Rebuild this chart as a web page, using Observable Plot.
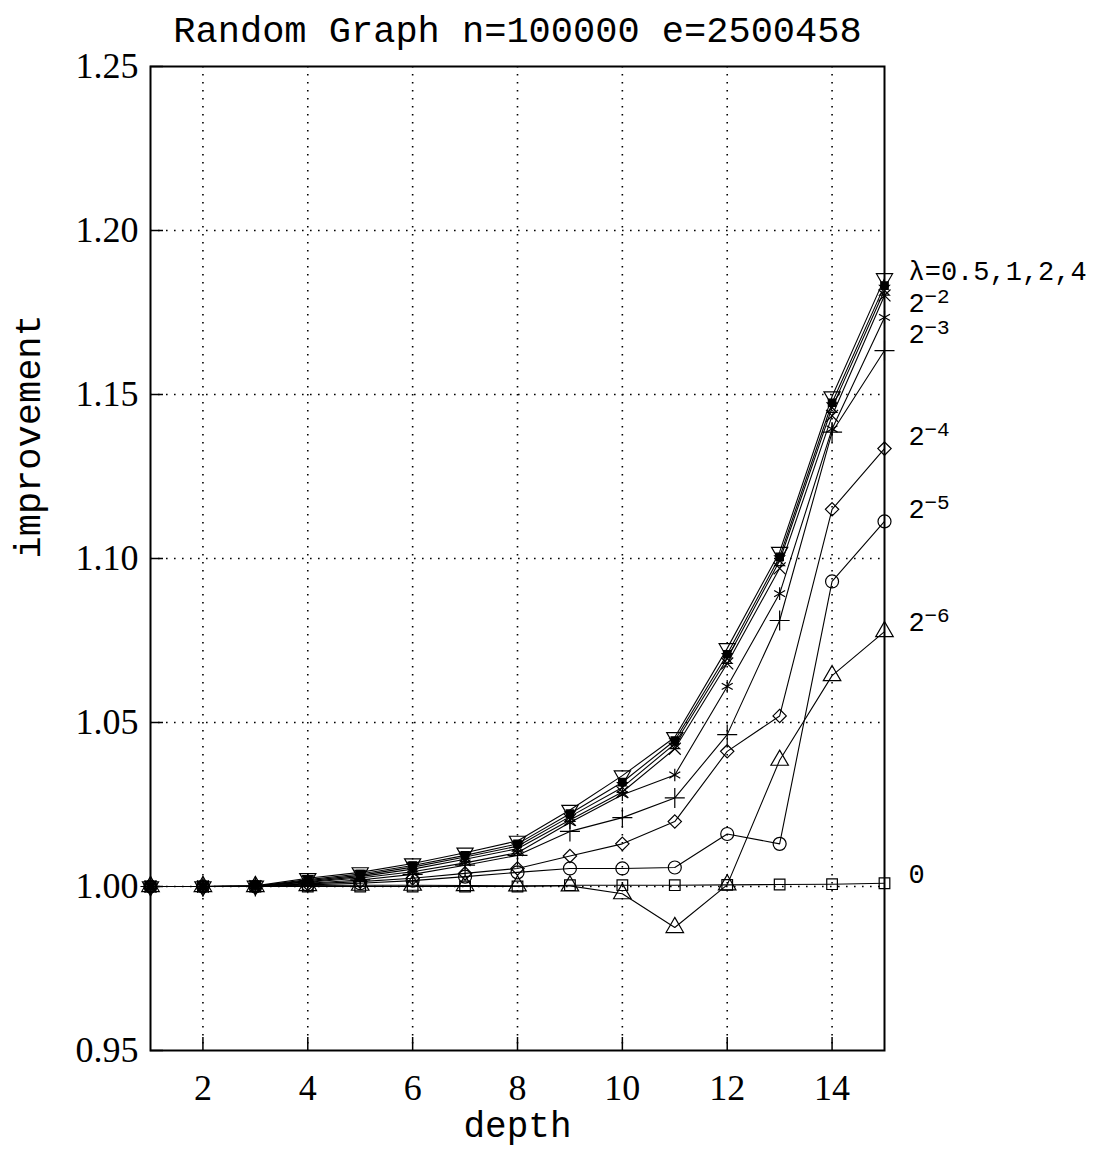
<!DOCTYPE html>
<html><head><meta charset="utf-8">
<script src="https://cdn.jsdelivr.net/npm/d3@7"></script>
<script src="https://cdn.jsdelivr.net/npm/@observablehq/plot@0.6"></script>
<style>body{margin:0;background:#fff}</style>
</head><body><div id="chart"></div>
<script>
// ---- data ----
const depth = [1, 2, 3, 4, 5, 6, 7, 8, 9, 10, 11, 12, 13, 14, 15];
const lam4   = [1.000, 1.000, 1.0002, 1.0025, 1.0043, 1.0070, 1.0103, 1.0139, 1.0233, 1.0338, 1.0455, 1.0726, 1.1020, 1.1494, 1.1854];
const lam2   = [1.000, 1.000, 1.0001, 1.0021, 1.0038, 1.0064, 1.0095, 1.0130, 1.0222, 1.0318, 1.0445, 1.0708, 1.1005, 1.1475, 1.1832];
const lam1   = [1.000, 1.000, 1.0001, 1.0018, 1.0034, 1.0059, 1.0090, 1.0123, 1.0213, 1.0302, 1.0435, 1.0695, 1.0993, 1.1460, 1.1818];
const lam05  = [1.000, 1.000, 1.0001, 1.0015, 1.0030, 1.0053, 1.0083, 1.0115, 1.0203, 1.0288, 1.0420, 1.0680, 1.0970, 1.1435, 1.1802];
const lam2m2 = [1.000, 1.000, 1.0001, 1.0013, 1.0026, 1.0045, 1.0072, 1.0103, 1.0195, 1.0280, 1.0340, 1.0610, 1.0893, 1.1395, 1.1735];
const lam2m3 = [1.000, 1.000, 1.0000, 1.0010, 1.0020, 1.0037, 1.0065, 1.0095, 1.0168, 1.0210, 1.0270, 1.0463, 1.0811, 1.1385, 1.1634];
const lam2m4 = [1.000, 1.000, 1.0000, 1.0008, 1.0015, 1.0025, 1.0040, 1.0055, 1.0093, 1.0130, 1.0198, 1.0412, 1.0520, 1.1150, 1.1335];
const lam2m5 = [1.000, 1.000, 1.0000, 1.0005, 1.0010, 1.0018, 1.0030, 1.0043, 1.0055, 1.0055, 1.0058, 1.0160, 1.0130, 1.0930, 1.1113];
const lam2m6 = [1.000, 1.000, 1.0000, 1.0003, 1.0004, 1.0004, 1.0003, 1.0002, 1.0002, 0.9978, 0.9875, 1.0005, 1.0385, 1.0643, 1.0777];
const lam0   = [1.000, 1.000, 1.0000, 1.0000, 1.0000, 1.0000, 1.0000, 1.0000, 1.0004, 1.0004, 1.0004, 1.0005, 1.0006, 1.0007, 1.0010];

const seriesNames  = ["4", "2", "1", "0.5", "2^-2", "2^-3", "2^-4", "2^-5", "2^-6", "0"];
const seriesValues = [lam4, lam2, lam1, lam05, lam2m2, lam2m3, lam2m4, lam2m5, lam2m6, lam0];

const xTicks = [2, 4, 6, 8, 10, 12, 14];
const yTicks = [0.95, 1.00, 1.05, 1.10, 1.15, 1.20, 1.25];
const yGrid  = [1.00, 1.05, 1.10, 1.15, 1.20];

const labelBase = ["λ=0.5,1,2,4", "2", "2", "2", "2", "2", "0"];
const labelExp  = ["", "−2", "−3", "−4", "−5", "−6", ""];
const labelY    = [1.1876, 1.1777, 1.1683, 1.1372, 1.1149, 1.0805, 1.0037];

const titleText = "Random Graph n=100000 e=2500458";

// ---- symbols ----
const invTriangle = {draw(ctx, size) {
  const y = -Math.sqrt(size / (Math.sqrt(3) * 3));
  ctx.moveTo(0, -2 * y); ctx.lineTo(-Math.sqrt(3) * y, y); ctx.lineTo(Math.sqrt(3) * y, y); ctx.closePath();
}};
const hourglass = {draw(ctx, size) {
  const r = Math.sqrt(size) / 2;
  ctx.moveTo(-r, -r); ctx.lineTo(r, -r); ctx.lineTo(-r, r); ctx.lineTo(r, r); ctx.closePath();
}};
const symbols = [invTriangle, "square", hourglass, "times", "asterisk", "plus", "diamond2", "circle", "triangle", "square"];
const fills   = ["none", "black", "none", "none", "none", "none", "none", "none", "none", "none"];
const radii   = [6, 4.2, 5.5, 5.5, 6, 6.5, 6, 6.5, 6.5, 6];

const table = seriesNames.flatMap((s, i) => depth.map((d, j) => ({series: s, depth: d, value: seriesValues[i][j]})));
const labels = labelBase.map((t, i) => ({text: t, exp: labelExp[i], y: labelY[i]}));

const W = 1116, H = 1150, mL = 150, mR = 232, mT = 66, mB = 100;
const xDomain = [1, 15], yDomain = [0.95, 1.25];

const seriesMarks = seriesNames.flatMap((s, i) => {
  const rows = table.filter(d => d.series === s);
  return [
    Plot.line(rows, {x: "depth", y: "value", stroke: "black", strokeWidth: 1.1}),
    Plot.dot(rows, {x: "depth", y: "value", symbol: symbols[i], r: radii[i], stroke: "black", fill: fills[i], strokeWidth: 1.2})
  ];
});

const chart = Plot.plot({
  width: W, height: H,
  marginLeft: mL, marginRight: mR, marginTop: mT, marginBottom: mB,
  style: {fontFamily: "Liberation Serif", fontSize: "36px", background: "white", color: "black"},
  x: {domain: xDomain},
  y: {domain: yDomain},
  marks: [
    Plot.gridX(xTicks, {stroke: "black", strokeOpacity: 1, strokeWidth: 1.6, strokeDasharray: "1.6,6.4"}),
    Plot.gridY(yGrid, {stroke: "black", strokeOpacity: 1, strokeWidth: 1.6, strokeDasharray: "1.6,6.4"}),
    Plot.ruleX(xTicks, {x: d => d, stroke: "black", strokeWidth: 1.5, insetTop: H - mT - mB - 13}),
    Plot.ruleY(yTicks, {y: d => d, stroke: "black", strokeWidth: 1.5, insetRight: W - mL - mR - 13}),
    ...seriesMarks,
    Plot.frame({stroke: "black", strokeWidth: 2}),
    Plot.axisX(xTicks, {tickSize: 0, tickPadding: 24, label: null, fontSize: 36}),
    Plot.axisY(yTicks, {tickSize: 0, tickPadding: 12, label: null, tickFormat: d3.format(".2f"), fontSize: 36}),
    Plot.text([titleText], {frameAnchor: "top", lineAnchor: "middle", dy: -36, fontFamily: "Liberation Mono", fontSize: 37}),
    Plot.text(["improvement"], {frameAnchor: "left", dx: -122, rotate: -90, fontFamily: "Liberation Mono", fontSize: 37}),
    Plot.text(["depth"], {frameAnchor: "bottom", lineAnchor: "middle", dy: 75, fontFamily: "Liberation Mono", fontSize: 36}),
    Plot.text(labels, {x: () => xDomain[1], y: "y", text: "text", dx: 24, textAnchor: "start", fontFamily: "Liberation Mono", fontSize: 27}),
    Plot.text(labels.filter(d => d.exp), {x: () => xDomain[1], y: "y", text: "exp", dx: 40, dy: -7, textAnchor: "start", fontFamily: "Liberation Mono", fontSize: 21})
  ]
});
document.getElementById("chart").appendChild(chart);
</script>
</body></html>
